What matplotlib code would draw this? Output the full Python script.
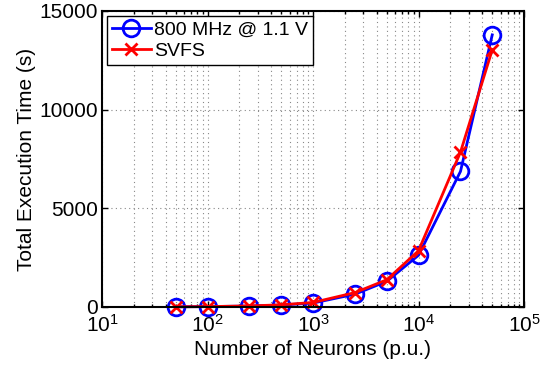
import matplotlib
matplotlib.use("Agg")
import matplotlib.pyplot as plt
from matplotlib.ticker import LogLocator, NullFormatter

plt.rcParams['font.family'] = ['Liberation Sans', 'DejaVu Sans']
plt.rcParams['mathtext.fontset'] = 'custom'
plt.rcParams['mathtext.rm'] = 'Liberation Sans'

# Network sizes and measured execution times
neurons = [50, 100, 250, 500, 1000, 2500, 5000, 10000, 25000, 50000]
time_fixed = [10, 20, 50, 100, 200, 650, 1300, 2620, 6870, 13790]
time_svfs = [10, 20, 55, 110, 230, 730, 1380, 2850, 7850, 13030]

fig = plt.figure(figsize=(5.49, 3.67), dpi=100)
ax = fig.add_axes([102 / 549, 1 - 307 / 367, 422 / 549, 296 / 367])

ax.plot(neurons, time_fixed, '-o', color='blue', lw=2, ms=12,
        mfc='none', mew=2, label='800 MHz @ 1.1 V', clip_on=False)
ax.plot(neurons, time_svfs, '-x', color='red', lw=2, ms=9,
        mew=2, label='SVFS', clip_on=False)

ax.set_xscale('log')
ax.set_xlim(10, 1e5)
ax.set_ylim(0, 15000)
ax.set_yticks([0, 5000, 10000, 15000])
ax.xaxis.set_major_locator(LogLocator(base=10, numticks=10))
ax.xaxis.set_minor_locator(LogLocator(base=10, subs=range(2, 10), numticks=10))
ax.xaxis.set_minor_formatter(NullFormatter())

dots = (0, (1, 3))
ax.grid(True, which='major', axis='both', color='#888888', ls=dots, lw=0.8)
ax.grid(True, which='minor', axis='x', color='#888888', ls=dots, lw=0.8)
ax.set_axisbelow(True)

ax.tick_params(which='both', direction='in', top=True, right=True,
               labelsize=15, width=1)
ax.tick_params(axis='x', pad=5)
ax.tick_params(axis='y', pad=3)
ax.tick_params(which='major', length=4)
ax.tick_params(which='minor', length=2)
for s in ax.spines.values():
    s.set_linewidth(1.5)

ax.set_xlabel('Number of Neurons (p.u.)', fontsize=15, labelpad=3)
ax.set_ylabel('Total Execution Time (s)', fontsize=15, labelpad=2)

leg = ax.legend(loc='upper left', fontsize=14, fancybox=False,
                edgecolor='black', framealpha=1, borderpad=0.25,
                handlelength=2.0, handletextpad=0.2, labelspacing=0.2,
                borderaxespad=0.25)
leg.get_frame().set_linewidth(1)

fig.savefig('out.png', dpi=100)
